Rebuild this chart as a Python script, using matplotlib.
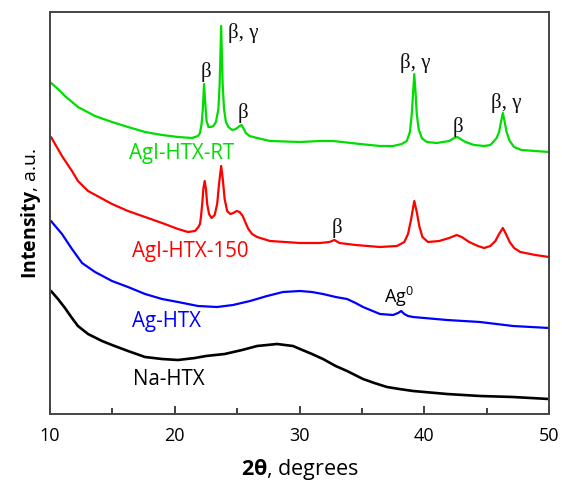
import matplotlib
matplotlib.use("Agg")
import matplotlib.pyplot as plt
from matplotlib.ticker import MultipleLocator

plt.rcParams['font.family'] = ['Open Sans', 'DejaVu Sans']
plt.rcParams['mathtext.fontset'] = 'custom'
plt.rcParams['mathtext.rm'] = 'Open Sans'
plt.rcParams['mathtext.bf'] = 'Open Sans:bold'

# ---- data (2theta in degrees, intensity in arbitrary offset units) ----
rt_x = [10.0, 10.64, 11.2, 12.24, 13.61, 14.97, 16.25, 17.62, 18.98, 20.26, 21.38, 21.86,
        22.02, 22.15, 22.25, 22.35, 22.45, 22.55, 22.7, 22.9, 23.1, 23.3, 23.5, 23.6, 23.72,
        23.84, 23.95, 24.1, 24.3, 24.6, 24.9, 25.2, 25.35, 25.5, 25.7, 26.0, 26.6, 27.64,
        30.04, 31.64, 32.69, 34.85, 36.45, 37.5, 38.2, 38.6, 38.85, 39.0, 39.1, 39.2, 39.3,
        39.4, 39.55, 39.8, 40.2, 41.0, 42.0, 42.4, 42.65, 42.9, 43.3, 44.0, 44.8, 45.3,
        45.6, 45.8, 46.0, 46.15, 46.3, 46.45, 46.6, 46.85, 47.2, 47.8, 48.9, 50.0]
rt_y = [332, 325, 318, 307, 298, 292, 287, 282, 279, 277, 276, 278,
        281, 290, 305, 330, 310, 293, 287, 287, 288, 292, 305, 330, 388,
        330, 305, 292, 287, 284, 285, 288, 289, 286, 281, 278, 276, 273,
        272, 273, 273, 270, 268, 268, 270, 273, 282, 300, 320, 340, 322,
        300, 285, 276, 272, 271, 273, 276, 277, 275, 272, 269, 268, 269,
        273, 276, 282, 292, 301, 292, 282, 273, 267, 264, 263, 262]

h150_x = [10.08, 10.96, 11.76, 12.24, 13.05, 14.97, 16.25, 17.62, 18.98, 20.26, 21.06, 21.62,
          21.9, 22.02, 22.1, 22.2, 22.3, 22.4, 22.5, 22.6, 22.75, 22.95, 23.2, 23.4, 23.55,
          23.72, 23.85, 24.0, 24.2, 24.45, 24.7, 24.95, 25.2, 25.45, 25.65, 25.9, 26.2, 26.6,
          27.64, 30.04, 31.64, 32.4, 32.8, 33.2, 34.5, 36.45, 37.82, 38.4, 38.7, 38.95, 39.2,
          39.4, 39.6, 39.85, 40.3, 41.2, 42.0, 42.6, 43.0, 43.6, 44.3, 44.8, 45.3, 45.7,
          46.0, 46.3, 46.55, 46.85, 47.2, 47.7, 48.9, 50.0]
h150_y = [277, 258, 243, 233, 223, 210, 203, 197, 191, 185, 182, 183,
          187, 190, 197, 210, 226, 233, 225, 210, 200, 196, 199, 210, 230,
          248, 235, 215, 203, 200, 201, 203, 202, 198, 192, 185, 180, 177,
          173, 171, 171, 172, 174, 171, 169, 167, 168, 172, 180, 195, 213,
          202, 188, 177, 172, 173, 176, 179, 177, 172, 168, 166, 168, 173,
          180, 186, 180, 172, 166, 162, 159, 157]

ag_x = [10.08, 10.96, 11.76, 12.57, 13.61, 14.97, 16.25, 17.62, 18.98, 20.26, 21.86, 23.39,
        24.67, 26.03, 27.4, 28.68, 30.04, 31.0, 31.88, 32.9, 33.81, 34.5, 35.09, 36.45, 37.5,
        37.9, 38.15, 38.4, 38.7, 39.1, 41.82, 44.47, 47.11, 50.0]
ag_y = [193, 180, 165, 151, 142, 133, 127, 120, 115, 112, 108, 107,
        109, 113, 118, 122, 123, 122, 120, 117, 115, 111, 107, 100, 99,
        101, 103, 100, 98, 97, 94, 92, 88, 86]

na_x = [10.08, 10.64, 11.2, 11.76, 12.24, 13.05, 14.17, 14.97, 16.25, 17.62, 18.98, 20.26,
        21.62, 22.5, 24.0, 25.4, 26.6, 28.2, 29.48, 30.04, 31.0, 31.88, 32.9, 33.81, 35.09,
        36.0, 37.01, 38.0, 39.1, 41.82, 44.47, 47.11, 50.0]
na_y = [123, 115, 106, 96, 88, 80, 73, 69, 63, 57, 55, 54,
        56, 58, 60, 64, 68, 70, 68, 65, 60, 55, 48, 43, 35,
        31, 27, 25, 23, 20, 18, 17, 15]

series_names = ["AgI-HTX-RT", "AgI-HTX-150", "Ag-HTX", "Na-HTX"]
series_colors = ["#00dd00", "#ff0000", "#0000ff", "#000000"]

x_ticks = [10, 20, 30, 40, 50]

fig = plt.figure(figsize=(5.62, 4.81), dpi=100)
ax = fig.add_axes([50/562, 1-415/481, (549-50)/562, (415-13)/481])

for xs, ys, c in zip([rt_x, h150_x, ag_x, na_x], [rt_y, h150_y, ag_y, na_y], series_colors):
    ax.plot(xs, ys, color=c, lw=1.6 if c != "#000000" else 1.9,
            solid_joinstyle='round', solid_capstyle='round')

ax.set_xlim(10, 50)
ax.set_ylim(0, 402)
ax.set_xticks(x_ticks)
ax.xaxis.set_minor_locator(MultipleLocator(5))
ax.set_yticks([])
ax.tick_params(axis='x', which='major', direction='in', length=6, width=1.3,
               labelsize=13, pad=9, colors='#333333', labelcolor='black')
ax.tick_params(axis='x', which='minor', direction='in', length=4, width=1.3, colors='#333333')
for s in ax.spines.values():
    s.set_linewidth(1.4)
    s.set_color('#444444')

# sample labels (left edge, vertical centre)
lab_pos = [(16.33, 261), (16.57, 163), (16.57, 93), (16.65, 35)]
for name, c, (lx, ly) in zip(series_names, series_colors, lab_pos):
    ax.text(lx, ly, name, color=c, fontsize=14.8, ha='left', va='center')

# phase annotations
serif = ['Liberation Serif', 'DejaVu Serif']
ann = [(22.5, 343, "β", 'center'), (24.27, 382, "β, γ", 'left'), (25.43, 302, "β", 'center'),
       (38.06, 352, "β, γ", 'left'), (42.7, 288, "β", 'center'), (45.35, 312, "β, γ", 'left'),
       (33.0, 187, "β", 'center')]
for ax_, ay_, t, ha in ann:
    ax.text(ax_, ay_, t, fontsize=15, family=serif, ha=ha, va='center', color='#111111')
ax.text(37.94, 118, r"Ag$^0$", fontsize=13, ha='center', va='center')

ax.set_xlabel(r"$\mathbf{2\theta}$, degrees", fontsize=15.5, labelpad=8)
ax.set_ylabel(r"$\mathbf{Intensity}$, a.u.", fontsize=14, labelpad=5)

fig.savefig("out.png", dpi=100)
